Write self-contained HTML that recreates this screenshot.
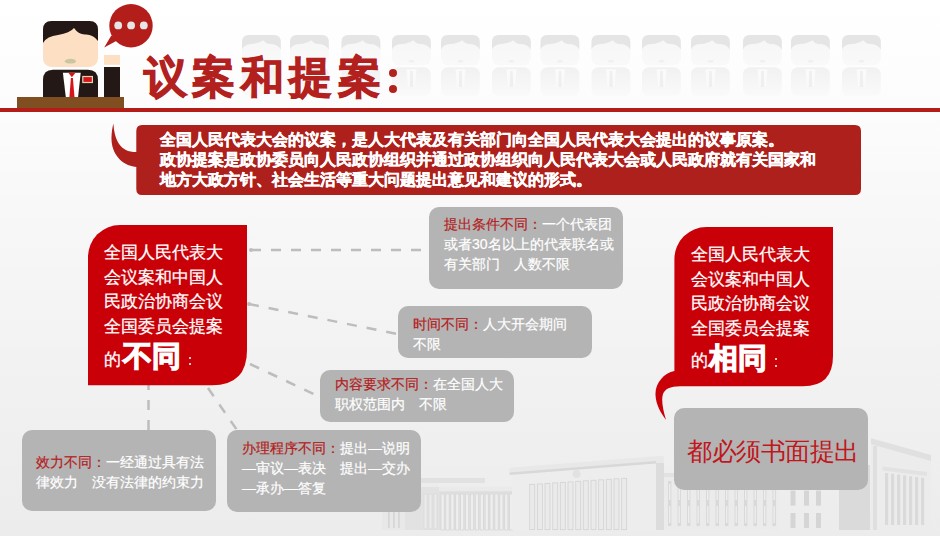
<!DOCTYPE html>
<html><head><meta charset="utf-8">
<style>
html,body{margin:0;padding:0;}
body{width:940px;height:536px;overflow:hidden;position:relative;font-family:"Liberation Sans",sans-serif;
background:linear-gradient(#ffffff 0px,#fcfcfc 108px,#fcfcfc 112px,#f4f4f4 300px,#ececec 536px);}
.abs{position:absolute;}
.t{position:absolute;white-space:nowrap;color:#fff;}
.g{position:absolute;background:#b4b4b4;border-radius:10px;}
.gt{position:absolute;font-size:14px;line-height:20px;color:#fff;white-space:nowrap;-webkit-text-stroke-width:0.2px;}
.r{color:#b3201d;}
.redbox{position:absolute;background:#cc0a12;}
.rt{position:absolute;font-size:17.3px;line-height:24.5px;color:#fff;white-space:nowrap;-webkit-text-stroke:0.25px #fff;}
.big{font-size:28.5px;line-height:34px;font-weight:bold;-webkit-text-stroke:1.2px #fff;}
.dot{width:2.2px;height:2.2px;background:#fff;border-radius:50%;}
</style></head><body>
<svg class="abs" style="left:0;top:0" width="940" height="536" viewBox="0 0 940 536">
  <defs>
  <linearGradient id="fgface" x1="0" y1="0" x2="0" y2="1"><stop offset="0" stop-color="#f6f6f6"/><stop offset="1" stop-color="#f9f9f9"/></linearGradient>
  <linearGradient id="fgbody" x1="0" y1="0" x2="0" y2="1"><stop offset="0" stop-color="#f1f1f1"/><stop offset="1" stop-color="#fafafa"/></linearGradient>
  </defs>
  <!-- faint figures -->
  <g><g transform="translate(242,35)">
    <rect x="0" y="0" width="38.8" height="30.2" rx="7" fill="url(#fgface)"/>
    <path d="M0,14.6 Q2,9.5 9,9 Q17,8.5 21.3,5.2 Q24,8.7 28,9 Q36,9 38.8,14.6 L38.8,7 Q38.8,0 31.8,0 L7,0 Q0,0 0,7 Z" fill="#e5e5e5"/>
    <ellipse cx="19.5" cy="26.3" rx="3" ry="1.2" fill="#f0f0f0"/>
    <rect x="0" y="32.2" width="38.8" height="29" rx="7" fill="url(#fgbody)"/>
    <polygon points="14.5,34.2 24.5,34.2 23,52 16,52" fill="#fafafa"/>
    <polygon points="18.3,36 20.7,36 21.3,52 17.7,52" fill="#efefef"/>
  </g>
  <g transform="translate(290,35)">
    <rect x="0" y="0" width="38.8" height="30.2" rx="7" fill="url(#fgface)"/>
    <path d="M0,14.6 Q2,9.5 9,9 Q17,8.5 21.3,5.2 Q24,8.7 28,9 Q36,9 38.8,14.6 L38.8,7 Q38.8,0 31.8,0 L7,0 Q0,0 0,7 Z" fill="#e5e5e5"/>
    <ellipse cx="19.5" cy="26.3" rx="3" ry="1.2" fill="#f0f0f0"/>
    <rect x="0" y="32.2" width="38.8" height="29" rx="7" fill="url(#fgbody)"/>
    <polygon points="14.5,34.2 24.5,34.2 23,52 16,52" fill="#fafafa"/>
    <polygon points="18.3,36 20.7,36 21.3,52 17.7,52" fill="#efefef"/>
  </g>
  <g transform="translate(341.5,35)">
    <rect x="0" y="0" width="38.8" height="30.2" rx="7" fill="url(#fgface)"/>
    <path d="M0,14.6 Q2,9.5 9,9 Q17,8.5 21.3,5.2 Q24,8.7 28,9 Q36,9 38.8,14.6 L38.8,7 Q38.8,0 31.8,0 L7,0 Q0,0 0,7 Z" fill="#e5e5e5"/>
    <ellipse cx="19.5" cy="26.3" rx="3" ry="1.2" fill="#f0f0f0"/>
    <rect x="0" y="32.2" width="38.8" height="29" rx="7" fill="url(#fgbody)"/>
    <polygon points="14.5,34.2 24.5,34.2 23,52 16,52" fill="#fafafa"/>
    <polygon points="18.3,36 20.7,36 21.3,52 17.7,52" fill="#efefef"/>
  </g>
  <g transform="translate(392,35)">
    <rect x="0" y="0" width="38.8" height="30.2" rx="7" fill="url(#fgface)"/>
    <path d="M0,14.6 Q2,9.5 9,9 Q17,8.5 21.3,5.2 Q24,8.7 28,9 Q36,9 38.8,14.6 L38.8,7 Q38.8,0 31.8,0 L7,0 Q0,0 0,7 Z" fill="#e5e5e5"/>
    <ellipse cx="19.5" cy="26.3" rx="3" ry="1.2" fill="#f0f0f0"/>
    <rect x="0" y="32.2" width="38.8" height="29" rx="7" fill="url(#fgbody)"/>
    <polygon points="14.5,34.2 24.5,34.2 23,52 16,52" fill="#fafafa"/>
    <polygon points="18.3,36 20.7,36 21.3,52 17.7,52" fill="#efefef"/>
  </g>
  <g transform="translate(441,35)">
    <rect x="0" y="0" width="38.8" height="30.2" rx="7" fill="url(#fgface)"/>
    <path d="M0,14.6 Q2,9.5 9,9 Q17,8.5 21.3,5.2 Q24,8.7 28,9 Q36,9 38.8,14.6 L38.8,7 Q38.8,0 31.8,0 L7,0 Q0,0 0,7 Z" fill="#e5e5e5"/>
    <ellipse cx="19.5" cy="26.3" rx="3" ry="1.2" fill="#f0f0f0"/>
    <rect x="0" y="32.2" width="38.8" height="29" rx="7" fill="url(#fgbody)"/>
    <polygon points="14.5,34.2 24.5,34.2 23,52 16,52" fill="#fafafa"/>
    <polygon points="18.3,36 20.7,36 21.3,52 17.7,52" fill="#efefef"/>
  </g>
  <g transform="translate(492,35)">
    <rect x="0" y="0" width="38.8" height="30.2" rx="7" fill="url(#fgface)"/>
    <path d="M0,14.6 Q2,9.5 9,9 Q17,8.5 21.3,5.2 Q24,8.7 28,9 Q36,9 38.8,14.6 L38.8,7 Q38.8,0 31.8,0 L7,0 Q0,0 0,7 Z" fill="#e5e5e5"/>
    <ellipse cx="19.5" cy="26.3" rx="3" ry="1.2" fill="#f0f0f0"/>
    <rect x="0" y="32.2" width="38.8" height="29" rx="7" fill="url(#fgbody)"/>
    <polygon points="14.5,34.2 24.5,34.2 23,52 16,52" fill="#fafafa"/>
    <polygon points="18.3,36 20.7,36 21.3,52 17.7,52" fill="#efefef"/>
  </g>
  <g transform="translate(540.5,35)">
    <rect x="0" y="0" width="38.8" height="30.2" rx="7" fill="url(#fgface)"/>
    <path d="M0,14.6 Q2,9.5 9,9 Q17,8.5 21.3,5.2 Q24,8.7 28,9 Q36,9 38.8,14.6 L38.8,7 Q38.8,0 31.8,0 L7,0 Q0,0 0,7 Z" fill="#e5e5e5"/>
    <ellipse cx="19.5" cy="26.3" rx="3" ry="1.2" fill="#f0f0f0"/>
    <rect x="0" y="32.2" width="38.8" height="29" rx="7" fill="url(#fgbody)"/>
    <polygon points="14.5,34.2 24.5,34.2 23,52 16,52" fill="#fafafa"/>
    <polygon points="18.3,36 20.7,36 21.3,52 17.7,52" fill="#efefef"/>
  </g>
  <g transform="translate(591.5,35)">
    <rect x="0" y="0" width="38.8" height="30.2" rx="7" fill="url(#fgface)"/>
    <path d="M0,14.6 Q2,9.5 9,9 Q17,8.5 21.3,5.2 Q24,8.7 28,9 Q36,9 38.8,14.6 L38.8,7 Q38.8,0 31.8,0 L7,0 Q0,0 0,7 Z" fill="#e5e5e5"/>
    <ellipse cx="19.5" cy="26.3" rx="3" ry="1.2" fill="#f0f0f0"/>
    <rect x="0" y="32.2" width="38.8" height="29" rx="7" fill="url(#fgbody)"/>
    <polygon points="14.5,34.2 24.5,34.2 23,52 16,52" fill="#fafafa"/>
    <polygon points="18.3,36 20.7,36 21.3,52 17.7,52" fill="#efefef"/>
  </g>
  <g transform="translate(642,35)">
    <rect x="0" y="0" width="38.8" height="30.2" rx="7" fill="url(#fgface)"/>
    <path d="M0,14.6 Q2,9.5 9,9 Q17,8.5 21.3,5.2 Q24,8.7 28,9 Q36,9 38.8,14.6 L38.8,7 Q38.8,0 31.8,0 L7,0 Q0,0 0,7 Z" fill="#e5e5e5"/>
    <ellipse cx="19.5" cy="26.3" rx="3" ry="1.2" fill="#f0f0f0"/>
    <rect x="0" y="32.2" width="38.8" height="29" rx="7" fill="url(#fgbody)"/>
    <polygon points="14.5,34.2 24.5,34.2 23,52 16,52" fill="#fafafa"/>
    <polygon points="18.3,36 20.7,36 21.3,52 17.7,52" fill="#efefef"/>
  </g>
  <g transform="translate(691,35)">
    <rect x="0" y="0" width="38.8" height="30.2" rx="7" fill="url(#fgface)"/>
    <path d="M0,14.6 Q2,9.5 9,9 Q17,8.5 21.3,5.2 Q24,8.7 28,9 Q36,9 38.8,14.6 L38.8,7 Q38.8,0 31.8,0 L7,0 Q0,0 0,7 Z" fill="#e5e5e5"/>
    <ellipse cx="19.5" cy="26.3" rx="3" ry="1.2" fill="#f0f0f0"/>
    <rect x="0" y="32.2" width="38.8" height="29" rx="7" fill="url(#fgbody)"/>
    <polygon points="14.5,34.2 24.5,34.2 23,52 16,52" fill="#fafafa"/>
    <polygon points="18.3,36 20.7,36 21.3,52 17.7,52" fill="#efefef"/>
  </g>
  <g transform="translate(743,35)">
    <rect x="0" y="0" width="38.8" height="30.2" rx="7" fill="url(#fgface)"/>
    <path d="M0,14.6 Q2,9.5 9,9 Q17,8.5 21.3,5.2 Q24,8.7 28,9 Q36,9 38.8,14.6 L38.8,7 Q38.8,0 31.8,0 L7,0 Q0,0 0,7 Z" fill="#e5e5e5"/>
    <ellipse cx="19.5" cy="26.3" rx="3" ry="1.2" fill="#f0f0f0"/>
    <rect x="0" y="32.2" width="38.8" height="29" rx="7" fill="url(#fgbody)"/>
    <polygon points="14.5,34.2 24.5,34.2 23,52 16,52" fill="#fafafa"/>
    <polygon points="18.3,36 20.7,36 21.3,52 17.7,52" fill="#efefef"/>
  </g>
  <g transform="translate(791,35)">
    <rect x="0" y="0" width="38.8" height="30.2" rx="7" fill="url(#fgface)"/>
    <path d="M0,14.6 Q2,9.5 9,9 Q17,8.5 21.3,5.2 Q24,8.7 28,9 Q36,9 38.8,14.6 L38.8,7 Q38.8,0 31.8,0 L7,0 Q0,0 0,7 Z" fill="#e5e5e5"/>
    <ellipse cx="19.5" cy="26.3" rx="3" ry="1.2" fill="#f0f0f0"/>
    <rect x="0" y="32.2" width="38.8" height="29" rx="7" fill="url(#fgbody)"/>
    <polygon points="14.5,34.2 24.5,34.2 23,52 16,52" fill="#fafafa"/>
    <polygon points="18.3,36 20.7,36 21.3,52 17.7,52" fill="#efefef"/>
  </g>
  <g transform="translate(842,35)">
    <rect x="0" y="0" width="38.8" height="30.2" rx="7" fill="url(#fgface)"/>
    <path d="M0,14.6 Q2,9.5 9,9 Q17,8.5 21.3,5.2 Q24,8.7 28,9 Q36,9 38.8,14.6 L38.8,7 Q38.8,0 31.8,0 L7,0 Q0,0 0,7 Z" fill="#e5e5e5"/>
    <ellipse cx="19.5" cy="26.3" rx="3" ry="1.2" fill="#f0f0f0"/>
    <rect x="0" y="32.2" width="38.8" height="29" rx="7" fill="url(#fgbody)"/>
    <polygon points="14.5,34.2 24.5,34.2 23,52 16,52" fill="#fafafa"/>
    <polygon points="18.3,36 20.7,36 21.3,52 17.7,52" fill="#efefef"/>
  </g></g>
  <!-- red line -->
  <rect x="0" y="108" width="940" height="4" fill="#b41c17"/>
  <!-- desk -->
  <rect x="17" y="97" width="107" height="11" fill="#7f4f22"/>
  <!-- body -->
  <path d="M43,97 L43,80 Q43,69.7 53,69.7 L88,69.7 Q98,69.7 98,80 L98,97 Z" fill="#231815"/>
  <polygon points="62.9,72.8 80.7,72.8 78.1,97 65.8,97" fill="#fff"/>
  <polygon points="68.3,72.8 75.5,72.8 71.9,77.2" fill="#d7161c"/>
  <polygon points="70.9,78 72.9,78 74.5,97 69.4,97" fill="#d7161c"/>
  <rect x="82.2" y="75.9" width="10.8" height="7.2" fill="#e6d2b0"/>
  <rect x="83.4" y="77.1" width="8.4" height="4.8" fill="#d7161c"/>
  <!-- head -->
  <rect x="43" y="21" width="55" height="46" rx="8.5" fill="#fde0c4"/>
  <path d="M43,43 Q47,36 58,35 Q70,33 74,28 Q78,34 85,34.5 Q93,34 98,41 L98,29.5 Q98,21 89.5,21 L51.5,21 Q43,21 43,29.5 Z" fill="#231815"/>
  <ellipse cx="70.4" cy="61.2" rx="5.6" ry="2.4" fill="#cbc6a2"/>
  <!-- arm -->
  <rect x="104" y="55" width="16" height="9.8" fill="#fde0c4"/>
  <rect x="104" y="67" width="16" height="30" fill="#231815"/>
  <!-- speech bubble -->
  <circle cx="131" cy="25.7" r="21.7" fill="#b31e1b"/>
  <polygon points="104.2,47.6 111.3,35.5 118,40" fill="#b31e1b"/>
  <circle cx="118.2" cy="25.4" r="3.9" fill="#e6e6e6"/>
  <circle cx="131.1" cy="25.4" r="3.9" fill="#e6e6e6"/>
  <circle cx="143.8" cy="25.4" r="3.9" fill="#e6e6e6"/>
  <!-- building -->
  <g><rect x="382" y="487" width="23" height="43" fill="#e8e8e8"/>
  <rect x="388" y="510" width="1.8" height="18" fill="#d6d6d6"/>
  <rect x="393" y="510" width="1.8" height="18" fill="#d6d6d6"/>
  <rect x="398" y="510" width="1.8" height="18" fill="#d6d6d6"/>
  <rect x="405" y="487" width="34" height="43" fill="#e2e2e2"/>
  <rect x="424" y="494" width="3" height="35" fill="#ebebeb" stroke="#d9d9d9" stroke-width="0.8"/>
  <rect x="429" y="494" width="3" height="35" fill="#ebebeb" stroke="#d9d9d9" stroke-width="0.8"/>
  <rect x="434" y="494" width="3" height="35" fill="#ebebeb" stroke="#d9d9d9" stroke-width="0.8"/>
  <rect x="421" y="478" width="64" height="5" fill="#e1e1e1"/>
  <rect x="405" y="483" width="34" height="4" fill="#ececec"/>
  <rect x="439" y="486.6" width="74" height="6" fill="#eaeaea"/>
  <rect x="439" y="491.5" width="74" height="1.2" fill="#d8d8d8"/>
  <rect x="439" y="492.7" width="74" height="37.3" fill="#e0e0e0"/>
  <rect x="441.0" y="494" width="3.2" height="36" fill="#eeeeee" stroke="#d5d5d5" stroke-width="0.7"/>
  <rect x="445.9" y="494" width="3.2" height="36" fill="#eeeeee" stroke="#d5d5d5" stroke-width="0.7"/>
  <rect x="450.8" y="494" width="3.2" height="36" fill="#eeeeee" stroke="#d5d5d5" stroke-width="0.7"/>
  <rect x="455.7" y="494" width="3.2" height="36" fill="#eeeeee" stroke="#d5d5d5" stroke-width="0.7"/>
  <rect x="460.6" y="494" width="3.2" height="36" fill="#eeeeee" stroke="#d5d5d5" stroke-width="0.7"/>
  <rect x="465.5" y="494" width="3.2" height="36" fill="#eeeeee" stroke="#d5d5d5" stroke-width="0.7"/>
  <rect x="470.4" y="494" width="3.2" height="36" fill="#eeeeee" stroke="#d5d5d5" stroke-width="0.7"/>
  <rect x="475.3" y="494" width="3.2" height="36" fill="#eeeeee" stroke="#d5d5d5" stroke-width="0.7"/>
  <rect x="480.2" y="494" width="3.2" height="36" fill="#eeeeee" stroke="#d5d5d5" stroke-width="0.7"/>
  <rect x="485.1" y="494" width="3.2" height="36" fill="#eeeeee" stroke="#d5d5d5" stroke-width="0.7"/>
  <rect x="490.0" y="494" width="3.2" height="36" fill="#eeeeee" stroke="#d5d5d5" stroke-width="0.7"/>
  <rect x="494.9" y="494" width="3.2" height="36" fill="#eeeeee" stroke="#d5d5d5" stroke-width="0.7"/>
  <rect x="499.8" y="494" width="3.2" height="36" fill="#eeeeee" stroke="#d5d5d5" stroke-width="0.7"/>
  <rect x="504.7" y="494" width="3.2" height="36" fill="#eeeeee" stroke="#d5d5d5" stroke-width="0.7"/>
  <rect x="509.6" y="494" width="3.2" height="36" fill="#eeeeee" stroke="#d5d5d5" stroke-width="0.7"/>
  <polygon points="512,474.5 656,463 656,530 512,530" fill="#ededed"/>
  <polygon points="509.6,467.8 656,456.3 663.7,456.3 663.7,463 656,463 509.6,474.5" fill="#e8e8e8"/>
  <polygon points="509.6,472.5 656,461 656,463.5 509.6,475" fill="#d8d8d8"/>
  <circle cx="576.6" cy="474" r="4" fill="#e2e2e2"/>
  <rect x="529.7" y="484.4" width="5" height="45.2" fill="#eaeaea" stroke="#d5d5d5" stroke-width="0.9"/>
  <rect x="537.4" y="483.9" width="5" height="45.7" fill="#eaeaea" stroke="#d5d5d5" stroke-width="0.9"/>
  <rect x="545.0" y="483.4" width="5" height="46.2" fill="#eaeaea" stroke="#d5d5d5" stroke-width="0.9"/>
  <rect x="552.7" y="482.9" width="5" height="46.7" fill="#eaeaea" stroke="#d5d5d5" stroke-width="0.9"/>
  <rect x="560.3" y="482.4" width="5" height="47.2" fill="#eaeaea" stroke="#d5d5d5" stroke-width="0.9"/>
  <rect x="568.0" y="481.9" width="5" height="47.7" fill="#eaeaea" stroke="#d5d5d5" stroke-width="0.9"/>
  <rect x="575.7" y="481.3" width="5" height="48.3" fill="#eaeaea" stroke="#d5d5d5" stroke-width="0.9"/>
  <rect x="583.3" y="480.8" width="5" height="48.8" fill="#eaeaea" stroke="#d5d5d5" stroke-width="0.9"/>
  <rect x="591.0" y="480.3" width="5" height="49.3" fill="#eaeaea" stroke="#d5d5d5" stroke-width="0.9"/>
  <rect x="598.6" y="479.8" width="5" height="49.8" fill="#eaeaea" stroke="#d5d5d5" stroke-width="0.9"/>
  <rect x="606.3" y="479.3" width="5" height="50.3" fill="#eaeaea" stroke="#d5d5d5" stroke-width="0.9"/>
  <rect x="614.0" y="478.8" width="5" height="50.8" fill="#eaeaea" stroke="#d5d5d5" stroke-width="0.9"/>
  <rect x="621.6" y="478.3" width="5" height="51.3" fill="#eaeaea" stroke="#d5d5d5" stroke-width="0.9"/>
  <rect x="656" y="463" width="8" height="67" fill="#dcdcdc"/>
  <rect x="664" y="473" width="115" height="57" fill="#ebebeb"/>
  <rect x="664" y="473" width="115" height="4" fill="#e2e2e2"/>
  <rect x="668.0" y="481" width="3.4" height="45" fill="#d9d9d9"/>
  <rect x="669.0" y="484" width="1.4" height="16" fill="#ededed"/>
  <rect x="669.0" y="506" width="1.4" height="17" fill="#ededed"/>
  <rect x="677.5" y="481" width="3.4" height="45" fill="#d9d9d9"/>
  <rect x="678.5" y="484" width="1.4" height="16" fill="#ededed"/>
  <rect x="678.5" y="506" width="1.4" height="17" fill="#ededed"/>
  <rect x="687.0" y="481" width="3.4" height="45" fill="#d9d9d9"/>
  <rect x="688.0" y="484" width="1.4" height="16" fill="#ededed"/>
  <rect x="688.0" y="506" width="1.4" height="17" fill="#ededed"/>
  <rect x="696.5" y="481" width="3.4" height="45" fill="#d9d9d9"/>
  <rect x="697.5" y="484" width="1.4" height="16" fill="#ededed"/>
  <rect x="697.5" y="506" width="1.4" height="17" fill="#ededed"/>
  <rect x="706.0" y="481" width="3.4" height="45" fill="#d9d9d9"/>
  <rect x="707.0" y="484" width="1.4" height="16" fill="#ededed"/>
  <rect x="707.0" y="506" width="1.4" height="17" fill="#ededed"/>
  <rect x="715.5" y="481" width="3.4" height="45" fill="#d9d9d9"/>
  <rect x="716.5" y="484" width="1.4" height="16" fill="#ededed"/>
  <rect x="716.5" y="506" width="1.4" height="17" fill="#ededed"/>
  <rect x="725.0" y="481" width="3.4" height="45" fill="#d9d9d9"/>
  <rect x="726.0" y="484" width="1.4" height="16" fill="#ededed"/>
  <rect x="726.0" y="506" width="1.4" height="17" fill="#ededed"/>
  <rect x="734.5" y="481" width="3.4" height="45" fill="#d9d9d9"/>
  <rect x="735.5" y="484" width="1.4" height="16" fill="#ededed"/>
  <rect x="735.5" y="506" width="1.4" height="17" fill="#ededed"/>
  <rect x="744.0" y="481" width="3.4" height="45" fill="#d9d9d9"/>
  <rect x="745.0" y="484" width="1.4" height="16" fill="#ededed"/>
  <rect x="745.0" y="506" width="1.4" height="17" fill="#ededed"/>
  <rect x="753.5" y="481" width="3.4" height="45" fill="#d9d9d9"/>
  <rect x="754.5" y="484" width="1.4" height="16" fill="#ededed"/>
  <rect x="754.5" y="506" width="1.4" height="17" fill="#ededed"/>
  <rect x="763.0" y="481" width="3.4" height="45" fill="#d9d9d9"/>
  <rect x="764.0" y="484" width="1.4" height="16" fill="#ededed"/>
  <rect x="764.0" y="506" width="1.4" height="17" fill="#ededed"/>
  <rect x="772.5" y="481" width="3.4" height="45" fill="#d9d9d9"/>
  <rect x="773.5" y="484" width="1.4" height="16" fill="#ededed"/>
  <rect x="773.5" y="506" width="1.4" height="17" fill="#ededed"/>
  <rect x="790.5" y="490.6" width="5" height="15" fill="#d5d5d5"/>
  <rect x="790.5" y="513" width="5" height="15" fill="#d5d5d5"/>
  <rect x="804" y="490.6" width="5" height="15" fill="#d5d5d5"/>
  <rect x="804" y="513" width="5" height="15" fill="#d5d5d5"/>
  <rect x="816" y="490.6" width="5" height="15" fill="#d5d5d5"/>
  <rect x="816" y="513" width="5" height="15" fill="#d5d5d5"/>
  <rect x="839" y="465" width="31" height="65" fill="#dadada"/>
  <polygon points="871,438.3 931,454.9 931,530 871,530" fill="#ececec"/>
  <polygon points="871,438.3 931,454.9 931,461 871,444.3" fill="#e0e0e0"/>
  <rect x="873" y="446" width="4" height="84" fill="#dfdfdf"/>
  <polygon points="882.5,466.4 927,472 927,476 882.5,470.4" fill="#e2e2e2"/>
  <rect x="885" y="473.0" width="3.2" height="52.0" fill="#dadada"/>
  <rect x="891" y="473.8" width="3.2" height="51.2" fill="#dadada"/>
  <rect x="897" y="474.6" width="3.2" height="50.4" fill="#dadada"/>
  <rect x="903" y="475.4" width="3.2" height="49.6" fill="#dadada"/>
  <rect x="909" y="476.2" width="3.2" height="48.8" fill="#dadada"/>
  <rect x="915" y="477.0" width="3.2" height="48.0" fill="#dadada"/>
  <rect x="921" y="477.8" width="3.2" height="47.2" fill="#dadada"/></g>
  <!-- top red box -->
  <path d="M142,125 L855,125 Q861,125 861,131 L861,189 Q861,195 855,195 L142,195 Q136.3,195 136.3,189 L136.3,167 C120,165 111,152 111.5,137 C111.7,131 112.5,127 113.4,123.4 C114.5,140 120,152 136.3,152 L136.3,131 Q136.3,125 142,125 Z" fill="#ae201b"/>
  <!-- dashed lines -->
  <g stroke="#bdbdbd" stroke-width="2.5" stroke-dasharray="10 10" fill="none">
    <line x1="251" y1="250" x2="422" y2="250"/>
    <line x1="249" y1="304" x2="397" y2="334"/>
    <line x1="250" y1="364" x2="316" y2="395"/>
    <line x1="208" y1="388" x2="237" y2="430"/>
    <line x1="148.5" y1="380" x2="148.5" y2="430"/>
  </g>
  <circle cx="251" cy="250" r="2" fill="#bdbdbd"/>
  <circle cx="249" cy="304" r="2" fill="#bdbdbd"/>
<!-- left red callout -->
  <path d="M88,257 A32,32 0 0 1 120,225 L247,225 L247,350 Q247,385.3 212,385.3 L88,385.3 Z" fill="#ca0008"/>
  <!-- right red callout -->
  <path d="M674.4,259 A32,32 0 0 1 706.4,227 L833,227 L833,356 Q833,386.3 803,386.3 L680,386.3 C670,386.5 665,389 663,394 C661,400 663,410 666,420 C661,413 656,405 655.5,395 C655,383 664,373 674.4,371 Z" fill="#ca0008"/>
  </svg>

<div class="t" style="left:144px;top:52px;font-size:43px;letter-spacing:5.4px;font-weight:bold;color:#b3211f;line-height:50px;-webkit-text-stroke:1.1px #b3211f;">议案和提案</div>
<div class="abs" style="left:388.7px;top:68.7px;width:8.8px;height:8.8px;border-radius:50%;background:#b3211f"></div>
<div class="abs" style="left:388.7px;top:84.6px;width:8.8px;height:8.8px;border-radius:50%;background:#b3211f"></div>

<div class="t" style="left:160px;top:129.5px;font-size:16px;font-weight:bold;line-height:20px;-webkit-text-stroke:0.4px #fff;">全国人民代表大会的议案，是人大代表及有关部门向全国人民代表大会提出的议事原案。<br>政协提案是政协委员向人民政协组织并通过政协组织向人民代表大会或人民政府就有关国家和<br>地方大政方针、社会生活等重大问题提出意见和建议的形式。</div>

<div class="rt" style="left:104px;top:240px;">全国人民代表大<br>会议案和中国人<br>民政治协商会议<br>全国委员会提案</div>
<div class="rt" style="left:104px;top:346.5px;">的</div>
<div class="rt big" style="left:122.5px;top:338.5px;">不同</div>
<div class="abs dot" style="left:188.5px;top:356.8px;"></div><div class="abs dot" style="left:188.5px;top:363.2px;"></div>
<div class="rt" style="left:690.5px;top:242px;">全国人民代表大<br>会议案和中国人<br>民政治协商会议<br>全国委员会提案</div>
<div class="rt" style="left:690.5px;top:348px;">的</div>
<div class="rt big" style="left:708.5px;top:341px;">相同</div>
<div class="abs dot" style="left:774.5px;top:358px;"></div><div class="abs dot" style="left:774.5px;top:364.5px;"></div>
<div class="g" style="left:429px;top:206.5px;width:194px;height:82px;"></div>
<div class="gt" style="left:444px;top:214px;"><span class="r">提出条件不同：</span>一个代表团<br>或者30名以上的代表联名或<br>有关部门　人数不限</div>

<div class="g" style="left:398px;top:306px;width:194px;height:51.5px;"></div>
<div class="gt" style="left:413px;top:314px;"><span class="r">时间不同：</span>人大开会期间<br>不限</div>

<div class="g" style="left:320px;top:370px;width:194px;height:51.5px;"></div>
<div class="gt" style="left:335px;top:374px;"><span class="r">内容要求不同：</span>在全国人大<br>职权范围内　不限</div>

<div class="g" style="left:227px;top:430px;width:194px;height:82px;"></div>
<div class="gt" style="left:242px;top:438px;"><span class="r">办理程序不同：</span>提出—说明<br>—审议—表决　提出—交办<br>—承办—答复</div>

<div class="g" style="left:22px;top:430.3px;width:194px;height:81.2px;"></div>
<div class="gt" style="left:36px;top:452px;"><span class="r">效力不同：</span>一经通过具有法<br>律效力　没有法律的约束力</div>

<div class="g" style="left:674.3px;top:408px;width:194px;height:81.5px;"></div>
<div class="t" style="left:687px;top:436.5px;font-size:25px;letter-spacing:-0.5px;line-height:28px;color:#c0171c;">都必须书面提出</div>
</body></html>
